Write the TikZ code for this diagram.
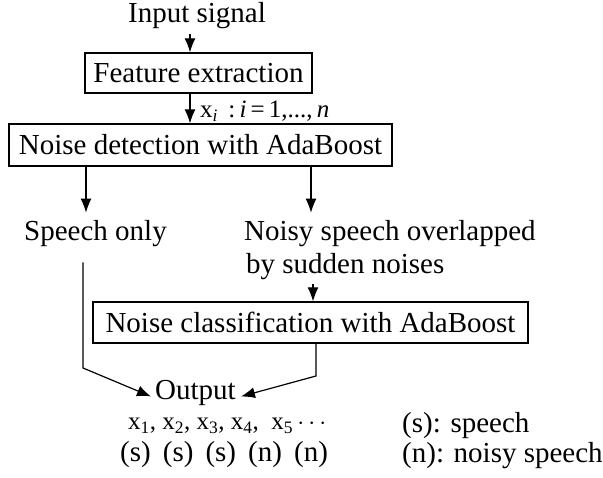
\documentclass[tikz,border=0pt]{standalone}
\usepackage{fontspec}
\setmainfont{Liberation Serif}
\usetikzlibrary{arrows.meta}
\begin{document}
\begin{tikzpicture}[x=1pt,y=-1pt,
  every node/.style={font=\fontsize{29}{33}\selectfont, inner sep=0pt},
  box/.style={draw, line width=1.3pt, align=center},
  txt/.style={anchor=base west},
  small/.style={anchor=base west, font=\fontsize{25}{29}\selectfont},
  tip/.style={-{Latex[length=14pt,width=11pt]}},
  arr/.style={line width=1.2pt, tip},
  ln/.style={line width=1.2pt}]
\useasboundingbox (0,0) rectangle (603,478);
% nodes
\node[anchor=base] (in) at (197,23) {Input signal};
\node[box, minimum width=227pt, minimum height=40pt] (fe) at (198.5,73) {Feature extraction};
\node[small] (lab) at (200,118) {x\textsubscript{\textit{i}}\, :\,\textit{i}\,=\,1,...,\,\textit{n}};
\node[box, minimum width=383pt, minimum height=42pt] (nd) at (200.5,145) {Noise detection with AdaBoost};
\node[txt] (so) at (24,241) {Speech only};
\node[txt] (ns1) at (244,241) {Noisy speech overlapped};
\node[txt] (ns2) at (246,274) {by sudden noises};
\node[box, minimum width=435pt, minimum height=41pt] (cl) at (310.5,322.5) {Noise classification with AdaBoost};
\node[txt] (out) at (155,400) {Output};
\node[small] (xr) at (128,430) {x\textsubscript{1}, x\textsubscript{2}, x\textsubscript{3}, x\textsubscript{4}, \ x\textsubscript{5}\,$\cdots$};
\node[txt] (sr) at (120,461) {(s) \,(s) \,(s) \,(n) \,(n)};
\node[txt] (lg1) at (402,433) {(s): speech};
\node[txt] (lg2) at (402,463) {(n): noisy speech};
% helper coordinates
\coordinate (cA) at (190,0);
\coordinate (cL) at (86,0);
\coordinate (cR) at (311,0);
\coordinate (cR2) at (313,0);
\coordinate (cV) at (83,0);
\coordinate (cW) at (316,0);
\coordinate (bL) at (83,368);
\coordinate (bR) at (316,376);
% connectors
\draw[arr] ([yshift=-5pt]in.south -| cA) -- (fe.north -| cA);
\draw[arr] (fe.south -| cA) -- (nd.north -| cA);
\draw[arr] (nd.south -| cL) -- ([yshift=8pt]so.north -| cL);
\draw[arr] (nd.south -| cR) -- ([yshift=8pt]ns1.north -| cR);
\draw[arr] ([yshift=-4pt]ns2.south -| cR2) -- (cl.north -| cR2);
\draw[arr] ([yshift=-15pt]so.south -| cV) -- (bL) -- ([xshift=-4pt,yshift=-3pt]out.west);
\draw[arr] (cl.south -| cW) -- (bR) -- ([xshift=5pt,yshift=-3pt]out.east);
\end{tikzpicture}
\end{document}
